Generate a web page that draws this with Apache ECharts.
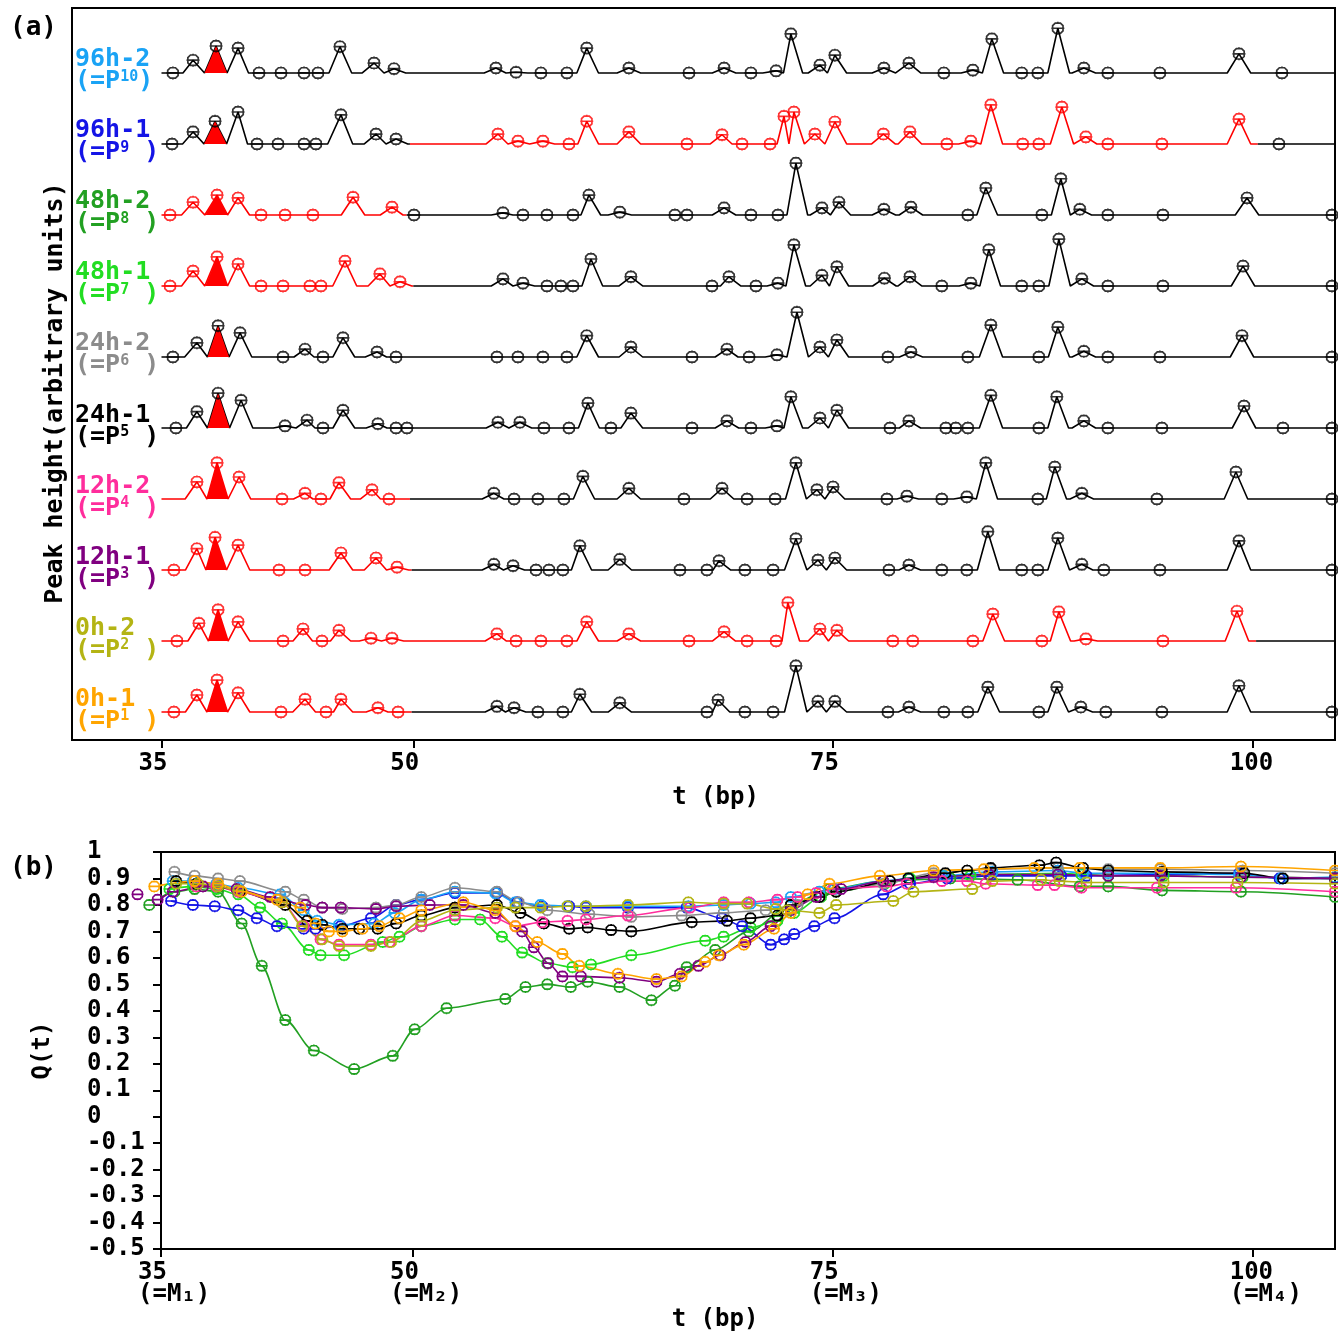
<!DOCTYPE html>
<html lang="en">
<head>
<meta charset="utf-8">
<title>Peak profiles and Q(t)</title>
<script src="https://cdn.jsdelivr.net/npm/echarts@6/dist/echarts.min.js"></script>
<style>
html, body { margin: 0; padding: 0; background: #fff; }
#main { width: 1338px; height: 1333px; }
</style>
</head>
<body>
<div id="main"></div>
<script>
// samples, bottom to top in panel (a)
const sampleNames = ['0h-1', '0h-2', '12h-1', '12h-2', '24h-1', '24h-2', '48h-1', '48h-2', '96h-1', '96h-2'];
const sampleSubs = ['1', '2', '3', '4', '5', '6', '7', '8', '9', '10'];
const sampleColors = ['#ffa500', '#b4b414', '#800080', '#ff2d9c', '#000000', '#8c8c8c', '#22dd22', '#22a022', '#1414e6', '#1aa3f5'];
// red parts of every trace, [from, to] in bp
const redRanges = [[[35, 49.9]], [[35, 100.2]], [[35, 49.9]], [[35, 49.8]], [], [], [[35, 50.0]], [[35, 49.6]], [[49.8, 100.3]], []];

// peaks of each trace: [t (bp), height]
const peaks0h1 = [[35.74,0],[37.11,2.4],[38.31,4.5],[39.56,2.7],[42.12,0],[43.55,1.8],[44.80,0],[45.69,1.8],[47.89,0.6],[49.09,0],[54.98,0.8],[56.0,0.6],[57.42,0],[58.91,0],[59.92,2.5],[62.30,1.3],[67.49,0],[68.15,1.7],[69.75,0],[71.43,0],[72.79,6.5],[74.10,1.5],[75.11,1.5],[78.27,0],[79.52,0.7],[81.60,0],[83.03,0],[84.22,3.5],[87.26,0],[88.33,3.5],[89.76,0.7],[91.25,0],[94.59,0],[99.18,3.7],[104.72,0]];
const peaks0h2 = [[35.92,0],[37.23,2.5],[38.37,4.4],[39.56,2.7],[42.24,0],[43.43,1.7],[44.56,0],[45.57,1.5],[47.48,0.4],[48.73,0.4],[54.98,1.0],[56.12,0],[57.60,0],[59.15,0],[60.33,2.7],[62.84,1.0],[66.42,0],[68.51,1.3],[69.88,0],[71.61,0],[72.31,5.4],[74.22,1.7],[75.23,1.5],[78.56,0],[79.75,0],[83.33,0],[84.52,3.8],[87.44,0],[88.45,4.1],[90.06,0.3],[94.65,0],[99.06,4.2]];
const peaks12h1 = [[35.74,0],[37.11,3.0],[38.19,4.6],[39.56,3.5],[42.0,0],[43.55,0],[45.69,2.4],[47.78,1.7],[49.03,0.4],[54.80,0.8],[55.94,0.6],[57.31,0],[58.08,0],[58.91,0],[59.92,3.4],[62.30,1.5],[65.88,0],[67.49,0],[68.21,1.3],[69.75,0],[71.43,0],[72.79,4.4],[74.10,1.4],[75.11,1.7],[78.33,0],[79.52,0.7],[81.48,0],[82.97,0],[84.22,5.4],[86.24,0],[87.20,0],[88.39,4.5],[89.82,0.8],[91.13,0],[94.47,0],[99.18,4.1],[104.72,0]];
const peaks12h2 = [[37.11,2.4],[38.31,5.1],[39.62,3.1],[42.18,0],[43.55,0.8],[44.50,0],[45.57,2.3],[47.54,1.3],[48.55,0],[54.80,0.8],[56.0,0],[57.42,0],[58.97,0],[60.10,3.2],[62.84,1.5],[66.12,0],[68.39,1.5],[69.88,0],[71.55,0],[72.79,5.1],[74.04,1.3],[75.0,1.7],[78.21,0],[79.40,0.4],[81.48,0],[82.97,0.3],[84.10,5.1],[87.20,0],[88.21,4.5],[89.82,0.8],[94.29,0],[99.0,3.8],[104.72,0]];
const peaks24h1 = [[35.86,0],[37.11,2.3],[38.37,4.9],[39.74,3.9],[42.36,0.3],[43.67,1.1],[44.62,0],[45.81,2.5],[47.89,0.6],[48.97,0],[49.62,0],[55.04,0.8],[56.35,0.8],[57.78,0],[59.27,0],[60.40,3.5],[61.77,0],[62.96,2.1],[66.60,0],[68.68,1.0],[70.11,0],[71.66,0.3],[72.49,4.4],[74.22,1.4],[75.23,2.5],[78.39,0],[79.52,1.0],[81.72,0],[82.31,0],[83.03,0],[84.40,4.6],[87.26,0],[88.33,4.4],[89.94,1.0],[91.37,0],[94.59,0],[99.48,3.1],[101.80,0],[104.72,0]];
const peaks24h2 = [[35.68,0],[37.11,2.0],[38.37,4.4],[39.68,3.4],[42.24,0],[43.55,1.1],[44.62,0],[45.81,2.7],[47.84,0.7],[48.97,0],[54.98,0],[56.23,0],[57.72,0],[59.15,0],[60.33,3.0],[62.96,1.4],[66.60,0],[68.68,1.1],[70.0,0],[71.66,0.3],[72.85,6.3],[74.22,1.4],[75.23,2.4],[78.27,0],[79.64,0.7],[83.03,0],[84.40,4.5],[87.26,0],[88.39,4.2],[89.94,0.8],[91.37,0],[94.47,0],[99.36,3.0],[104.72,0]];
const peaks48h1 = [[35.51,0],[36.88,2.1],[38.31,4.1],[39.56,3.1],[40.93,0],[42.24,0],[43.84,0],[44.50,0],[45.93,3.5],[48.01,1.7],[49.21,0.6],[55.34,1.0],[56.53,0.4],[57.96,0],[58.79,0],[59.51,0],[60.58,3.8],[62.96,1.3],[67.79,0],[68.80,1.3],[70.41,0],[71.72,0.4],[72.67,5.8],[74.34,1.5],[75.23,2.7],[78.06,1.1],[79.58,1.3],[81.48,0],[83.21,0.4],[84.28,5.1],[86.24,0],[87.26,0],[88.45,6.6],[89.82,1.0],[91.37,0],[94.65,0],[99.42,2.8],[104.72,0]];
const peaks48h2 = [[35.51,0],[36.88,1.8],[38.31,2.8],[39.56,2.4],[40.93,0],[42.36,0],[44.02,0],[46.41,2.5],[48.73,1.1],[50.04,0],[55.34,0.3],[56.53,0],[57.96,0],[59.51,0],[60.46,2.8],[62.30,0.4],[65.58,0],[66.30,0],[68.51,1.0],[70.11,0],[71.72,0],[72.79,7.3],[74.34,1.0],[75.35,1.8],[78.03,0.8],[79.64,1.1],[83.03,0],[84.10,3.8],[87.44,0],[88.57,5.1],[89.70,0.8],[91.37,0],[94.65,0],[99.66,2.4],[104.72,0]];
const peaks96h1 = [[35.63,0],[36.88,1.7],[38.19,3.2],[39.56,4.5],[40.69,0],[41.94,0],[43.49,0],[44.20,0],[45.69,4.1],[47.78,1.4],[48.97,0.7],[55.04,1.4],[56.23,0.4],[57.72,0.4],[59.27,0],[60.33,3.2],[62.84,1.7],[66.30,0],[68.39,1.3],[69.58,0],[71.25,0],[72.08,3.9],[72.67,4.5],[73.92,1.4],[75.11,3.1],[78.0,1.4],[79.58,1.7],[81.78,0],[83.21,0.4],[84.40,5.5],[86.30,0],[87.26,0],[88.63,5.2],[90.06,1.0],[91.37,0],[94.59,0],[99.18,3.5],[101.56,0]];
const peaks96h2 = [[35.68,0],[36.88,1.8],[38.25,3.8],[39.56,3.5],[40.81,0],[42.12,0],[43.49,0],[44.32,0],[45.63,3.7],[47.66,1.4],[48.85,0.6],[54.92,0.7],[56.12,0.1],[57.60,0],[59.15,0],[60.33,3.5],[62.84,0.7],[66.42,0],[68.51,0.7],[70.11,0],[71.61,0.3],[72.49,5.5],[74.22,1.1],[75.11,2.5],[78.03,0.7],[79.52,1.4],[81.60,0],[83.33,0.4],[84.46,4.8],[86.24,0],[87.20,0],[88.39,6.3],[89.94,0.7],[91.37,0],[94.47,0],[99.18,2.7],[101.74,0]];
const tracePeaks = [peaks0h1, peaks0h2, peaks12h1, peaks12h2, peaks24h1, peaks24h2, peaks48h1, peaks48h2, peaks96h1, peaks96h2];

// Q(t) curves: [t (bp), Q]
const q0h1 = [[34.6,0.87],[37.0,0.89],[38.4,0.88],[39.8,0.85],[41.9,0.82],[43.3,0.79],[44.2,0.73],[45.0,0.70],[45.8,0.70],[47.0,0.71],[48.0,0.72],[49.2,0.75],[50.5,0.78],[53.0,0.81],[54.9,0.78],[56.1,0.72],[57.4,0.66],[58.9,0.615],[59.9,0.57],[62.2,0.54],[64.5,0.52],[66.0,0.53],[67.4,0.585],[68.2,0.61],[69.7,0.65],[71.5,0.71],[72.5,0.77],[73.5,0.84],[74.8,0.88],[77.8,0.91],[81.0,0.93],[84.0,0.935],[87.0,0.94],[89.7,0.94],[94.5,0.94],[99.3,0.945],[104.9,0.93]];
const q0h2 = [[35.9,0.88],[37.2,0.88],[38.4,0.87],[39.6,0.855],[42.2,0.81],[43.4,0.72],[44.6,0.67],[45.6,0.645],[47.5,0.645],[48.7,0.66],[50.5,0.74],[52.5,0.78],[55.0,0.79],[56.1,0.79],[57.6,0.79],[59.2,0.795],[60.3,0.795],[62.8,0.80],[66.4,0.81],[68.5,0.805],[69.9,0.805],[71.6,0.785],[72.3,0.78],[74.2,0.77],[75.2,0.80],[78.6,0.815],[79.8,0.85],[83.3,0.86],[84.5,0.89],[87.4,0.895],[88.5,0.89],[90.1,0.885],[94.7,0.885],[99.1,0.885],[104.9,0.88]];
const q12h1 = [[33.6,0.84],[34.8,0.82],[35.7,0.85],[37.5,0.87],[39.5,0.86],[41.5,0.83],[43.6,0.80],[44.6,0.79],[45.7,0.79],[47.8,0.785],[49.0,0.795],[51.0,0.80],[53.0,0.80],[54.9,0.77],[56.5,0.70],[57.2,0.64],[58.05,0.58],[58.9,0.53],[60.0,0.53],[62.3,0.525],[64.5,0.51],[65.9,0.54],[67.0,0.57],[68.3,0.61],[69.8,0.66],[71.3,0.72],[72.5,0.78],[74.0,0.83],[75.5,0.86],[78.0,0.89],[81.0,0.905],[84.3,0.915],[88.4,0.915],[91.4,0.91],[94.5,0.91],[99.3,0.905],[104.9,0.90]];
const q12h2 = [[37.1,0.87],[38.3,0.87],[39.6,0.85],[42.2,0.81],[43.5,0.72],[44.5,0.67],[45.6,0.65],[47.5,0.65],[48.6,0.66],[50.5,0.72],[52.5,0.76],[54.9,0.75],[56.1,0.72],[57.7,0.735],[59.2,0.74],[60.3,0.745],[62.8,0.76],[66.5,0.79],[68.5,0.81],[70.0,0.81],[71.7,0.82],[72.9,0.83],[74.0,0.845],[75.0,0.86],[78.2,0.87],[79.4,0.88],[81.5,0.89],[83.0,0.89],[84.1,0.88],[87.2,0.875],[88.2,0.875],[89.8,0.865],[94.3,0.865],[99.0,0.865],[104.9,0.85]];
const q24h1 = [[35.9,0.89],[37.1,0.88],[38.4,0.87],[39.7,0.85],[42.4,0.80],[43.7,0.74],[44.6,0.725],[45.8,0.71],[46.8,0.71],[47.9,0.71],[49.0,0.73],[50.5,0.76],[52.5,0.79],[55.0,0.80],[56.4,0.77],[57.8,0.73],[59.3,0.71],[60.4,0.715],[61.8,0.705],[63.0,0.70],[66.6,0.735],[68.7,0.74],[70.1,0.75],[71.7,0.76],[72.5,0.80],[74.2,0.83],[75.2,0.85],[78.4,0.89],[79.5,0.90],[81.7,0.92],[83.0,0.93],[84.4,0.94],[87.3,0.95],[88.3,0.96],[89.9,0.94],[91.4,0.93],[94.6,0.925],[99.5,0.92],[101.8,0.90],[104.9,0.90]];
const q24h2 = [[35.8,0.925],[37.0,0.91],[38.4,0.90],[39.7,0.89],[42.4,0.85],[43.5,0.82],[44.6,0.79],[45.8,0.785],[47.8,0.79],[49.0,0.80],[50.5,0.83],[52.5,0.865],[55.0,0.85],[56.3,0.81],[58.0,0.78],[60.5,0.765],[63.0,0.755],[66.0,0.76],[68.5,0.77],[71.0,0.78],[72.9,0.80],[74.2,0.83],[75.2,0.85],[78.0,0.88],[81.0,0.92],[84.4,0.935],[88.4,0.94],[91.4,0.935],[94.5,0.935],[99.4,0.93],[104.9,0.92]];
const q48h1 = [[35.5,0.86],[36.9,0.87],[38.3,0.86],[39.6,0.84],[40.9,0.79],[42.2,0.73],[43.8,0.63],[44.5,0.61],[45.9,0.61],[48.2,0.66],[49.2,0.68],[50.5,0.72],[52.5,0.745],[54.0,0.745],[55.3,0.68],[56.5,0.62],[58.0,0.58],[59.5,0.565],[60.6,0.575],[63.0,0.61],[67.4,0.665],[68.5,0.68],[70.1,0.715],[71.7,0.74],[72.7,0.77],[74.3,0.83],[75.2,0.85],[78.1,0.88],[79.6,0.90],[81.5,0.91],[83.2,0.91],[84.3,0.915],[88.5,0.92],[89.8,0.915],[91.4,0.91],[94.7,0.91],[99.4,0.905],[104.9,0.90]];
const q48h2 = [[34.3,0.80],[35.8,0.85],[37.0,0.86],[38.4,0.85],[39.8,0.73],[41.0,0.57],[42.4,0.365],[44.1,0.25],[46.5,0.18],[48.8,0.23],[50.1,0.33],[52.0,0.41],[55.5,0.445],[56.7,0.49],[58.0,0.50],[59.4,0.49],[60.4,0.51],[62.3,0.49],[64.2,0.44],[65.6,0.495],[66.3,0.565],[68.0,0.63],[70.0,0.70],[72.5,0.80],[74.8,0.86],[78.0,0.89],[82.0,0.90],[86.0,0.895],[89.7,0.87],[91.4,0.87],[94.6,0.855],[99.3,0.85],[104.9,0.83]];
const q96h1 = [[35.6,0.815],[36.9,0.80],[38.2,0.795],[39.6,0.78],[40.7,0.75],[41.9,0.72],[43.5,0.71],[44.2,0.71],[45.7,0.72],[47.5,0.75],[49.0,0.80],[50.5,0.82],[52.5,0.845],[55.0,0.845],[56.2,0.81],[57.7,0.795],[59.3,0.795],[60.3,0.79],[62.8,0.79],[66.3,0.79],[68.4,0.75],[69.6,0.72],[71.3,0.65],[72.1,0.67],[72.7,0.69],[73.9,0.72],[75.1,0.75],[78.0,0.84],[79.6,0.88],[81.8,0.90],[84.4,0.91],[88.6,0.91],[90.1,0.91],[94.6,0.915],[99.2,0.92],[101.6,0.90],[104.9,0.90]];
const q96h2 = [[35.7,0.89],[36.9,0.89],[38.3,0.88],[39.6,0.865],[42.1,0.84],[43.5,0.78],[44.3,0.74],[45.6,0.725],[47.7,0.73],[48.9,0.77],[50.5,0.82],[52.5,0.85],[54.9,0.845],[56.1,0.81],[57.6,0.80],[59.2,0.795],[60.3,0.795],[62.8,0.795],[66.4,0.795],[68.5,0.80],[70.1,0.805],[71.6,0.81],[72.5,0.83],[74.2,0.85],[75.1,0.86],[78.0,0.89],[79.5,0.90],[81.6,0.91],[84.5,0.925],[88.4,0.93],[89.9,0.92],[91.4,0.92],[94.5,0.92],[99.2,0.915],[101.7,0.90],[104.9,0.905]];
const qCurves = [q0h1, q0h2, q12h1, q12h2, q24h1, q24h2, q48h1, q48h2, q96h1, q96h2];
// drawing order of the Q curves (last on top)
const qOrder = [7, 6, 8, 9, 5, 4, 3, 2, 1, 0];

const xTicks = [35, 50, 75, 100];
const xTickSubs = ['₁', '₂', '₃', '₄'];

const FONT = 'DejaVu Sans Mono';
const SPACING = 10;      // trace offset in panel (a)
const HALF_W = 0.7;      // half base width of a peak, bp
const T_START = 35, T_END = 104.9;
const MARK = 'path://M6,2 L14,2 L18,6 L18,14 L14,18 L6,18 L2,14 L2,6 Z M2,10 L18,10 M10,0 L10,2 M10,18 L10,20 M0,10 L2,10 M18,10 L20,10';

function isRed(k, t) {
    return redRanges[k].some(r => t >= r[0] && t <= r[1]);
}

function tracePoints(peaks, base) {
    const pts = [[T_START, base]];
    for (let i = 0; i < peaks.length; i++) {
        const t = peaks[i][0], h = peaks[i][1];
        const prev = i > 0 ? peaks[i - 1][0] : -Infinity;
        const next = i < peaks.length - 1 ? peaks[i + 1][0] : Infinity;
        const wl = Math.min(HALF_W, (t - prev) / 2), wr = Math.min(HALF_W, (next - t) / 2);
        pts.push([Math.max(T_START, t - wl), base], [t, base + h], [Math.min(T_END, t + wr), base]);
    }
    pts.push([T_END, base]);
    return pts;
}

const series = [];
tracePeaks.forEach(function (peaks, k) {
    const base = k * SPACING;
    const pts = tracePoints(peaks, base);
    // split the trace where its colour changes
    const cuts = [T_START];
    redRanges[k].forEach(r => { if (r[0] > T_START) cuts.push(r[0]); if (r[1] < T_END) cuts.push(r[1]); });
    cuts.push(T_END);
    cuts.sort((a, b) => a - b);
    for (let c = 0; c < cuts.length - 1; c++) {
        const a = cuts[c], b = cuts[c + 1];
        const seg = [[a, base]].concat(pts.filter(p => p[0] > a && p[0] < b), [[b, base]]);
        series.push({
            type: 'line', xAxisIndex: 0, yAxisIndex: 0, data: seg, showSymbol: false,
            lineStyle: {color: isRed(k, (a + b) / 2) ? '#ff0000' : '#000000', width: 1.6},
            silent: true, z: 2
        });
    }
    // filled peak near 38 bp
    const fp = peaks.filter(p => p[0] > 37.8 && p[0] < 38.8).sort((a, b) => b[1] - a[1])[0];
    const fi = peaks.indexOf(fp);
    const wl = Math.min(HALF_W, fi > 0 ? (fp[0] - peaks[fi - 1][0]) / 2 : HALF_W);
    const wr = Math.min(HALF_W, fi < peaks.length - 1 ? (peaks[fi + 1][0] - fp[0]) / 2 : HALF_W);
    series.push({
        type: 'custom', xAxisIndex: 0, yAxisIndex: 0, z: 3, silent: true,
        data: [[fp[0] - wl, fp[0], fp[0] + wr, base, base + fp[1]]],
        encode: {x: [0, 1, 2], y: [3, 4]},
        renderItem: function (params, api) {
            const p0 = api.coord([api.value(0), api.value(3)]);
            const p1 = api.coord([api.value(1), api.value(4)]);
            const p2 = api.coord([api.value(2), api.value(3)]);
            return {type: 'polygon', shape: {points: [p0, p1, p2]}, style: {fill: '#ff0000'}};
        }
    });
    series.push({
        type: 'scatter', xAxisIndex: 0, yAxisIndex: 0, symbol: MARK, symbolSize: 13, z: 4, silent: true,
        data: peaks.map(p => ({
            value: [p[0], base + p[1]],
            itemStyle: {color: 'none', borderColor: isRed(k, p[0]) ? '#ff0000' : '#000000', borderWidth: 1.7}
        }))
    });
});

qOrder.forEach(function (k) {
    const c = sampleColors[k];
    series.push({
        type: 'line', xAxisIndex: 1, yAxisIndex: 1, data: qCurves[k],
        smooth: 0.3, smoothMonotone: 'x', clip: false,
        symbol: MARK, symbolSize: 12, showSymbol: true, silent: true,
        lineStyle: {color: c, width: 1.6},
        itemStyle: {color: 'none', borderColor: c, borderWidth: 1.6}
    });
});

const tickFont = {fontFamily: FONT, fontWeight: 'bold', fontSize: 24, color: '#000'};

const chart = echarts.init(document.getElementById('main'));
chart.setOption({
    animation: false,
    backgroundColor: '#fff',
    grid: [
        {left: 72, right: 3, top: 8, bottom: 593, show: true, borderColor: '#000', borderWidth: 2},
        {left: 161, right: 3, top: 852, bottom: 83, show: true, borderColor: '#000', borderWidth: 2}
    ],
    xAxis: [
        {
            gridIndex: 0, type: 'value', min: 29.67, max: T_END,
            name: 't (bp)', nameLocation: 'middle', nameGap: 46,
            nameTextStyle: Object.assign({padding: [0, 0, 0, 24]}, tickFont),
            axisLine: {onZero: false, lineStyle: {color: '#000', width: 2}},
            axisTick: {customValues: xTicks, length: 8, lineStyle: {color: '#000', width: 2}},
            axisLabel: {
                customValues: xTicks, margin: 12,
                formatter: v => '{a|' + v + '}',
                rich: {a: Object.assign({width: 46, align: 'left', lineHeight: 24}, tickFont)}
            },
            splitLine: {show: false}
        },
        {
            gridIndex: 1, type: 'value', min: T_START, max: T_END,
            name: 't (bp)', nameLocation: 'middle', nameGap: 58,
            nameTextStyle: Object.assign({padding: [0, 66, 0, 0]}, tickFont),
            axisLine: {onZero: false, lineStyle: {color: '#000', width: 2}},
            axisTick: {customValues: xTicks, length: 8, lineStyle: {color: '#000', width: 2}},
            axisLabel: {
                customValues: xTicks, margin: 13,
                formatter: v => '{a|' + v + '}\n{a|(=M' + xTickSubs[xTicks.indexOf(v)] + ')}',
                rich: {a: Object.assign({width: 46, align: 'left', lineHeight: 22}, tickFont)}
            },
            splitLine: {show: false}
        }
    ],
    yAxis: [
        {
            gridIndex: 0, type: 'value', min: -3.94, max: 99.15,
            axisLine: {onZero: false, lineStyle: {color: '#000', width: 2}},
            axisTick: {show: false}, axisLabel: {show: false}, splitLine: {show: false}
        },
        {
            gridIndex: 1, type: 'value', min: -0.5, max: 1, interval: 0.1,
            name: 'Q(t)', nameLocation: 'middle', nameGap: 106, nameRotate: 90,
            nameTextStyle: tickFont,
            axisLine: {onZero: false, lineStyle: {color: '#000', width: 2}},
            axisTick: {length: 8, lineStyle: {color: '#000', width: 2}},
            axisLabel: Object.assign({
                margin: 74, align: 'left',
                formatter: v => String(Math.round(v * 10) / 10)
            }, tickFont),
            splitLine: {show: false}
        }
    ],
    series: series
});

// sample labels at the left of panel (a)
const labelText = [];
sampleNames.forEach(function (name, k) {
    const y = chart.convertToPixel({gridIndex: 0}, [35, k * SPACING])[1];
    const c = sampleColors[k];
    const sub = sampleSubs[k];
    labelText.push({
        type: 'text', x: 75, y: y - 13, z: 10,
        style: {text: name, fill: c, font: 'bold 25px ' + FONT, verticalAlign: 'middle'}
    });
    labelText.push({
        type: 'text', x: 75, y: y + 9, z: 10,
        style: {
            text: '(=P{s|' + sub + '}' + (sub.length > 1 ? '' : ' ') + ')', fill: c,
            font: 'bold 25px ' + FONT, verticalAlign: 'middle',
            rich: {s: {fill: c, fontFamily: FONT, fontWeight: 'bold', fontSize: 15, verticalAlign: 'top', padding: [0, 0, 6, 0]}}
        }
    });
});
labelText.push(
    {type: 'text', x: 10, y: 28, style: {text: '(a)', fill: '#000', font: 'bold 26px ' + FONT, verticalAlign: 'middle'}},
    {type: 'text', x: 10, y: 868, style: {text: '(b)', fill: '#000', font: 'bold 26px ' + FONT, verticalAlign: 'middle'}},
    {
        type: 'text', x: 55, y: 393, rotation: Math.PI / 2,
        style: {text: 'Peak height(arbitrary units)', fill: '#000', font: 'bold 25px ' + FONT, align: 'center', verticalAlign: 'middle'}
    }
);
chart.setOption({graphic: labelText});
</script>
</body>
</html>
